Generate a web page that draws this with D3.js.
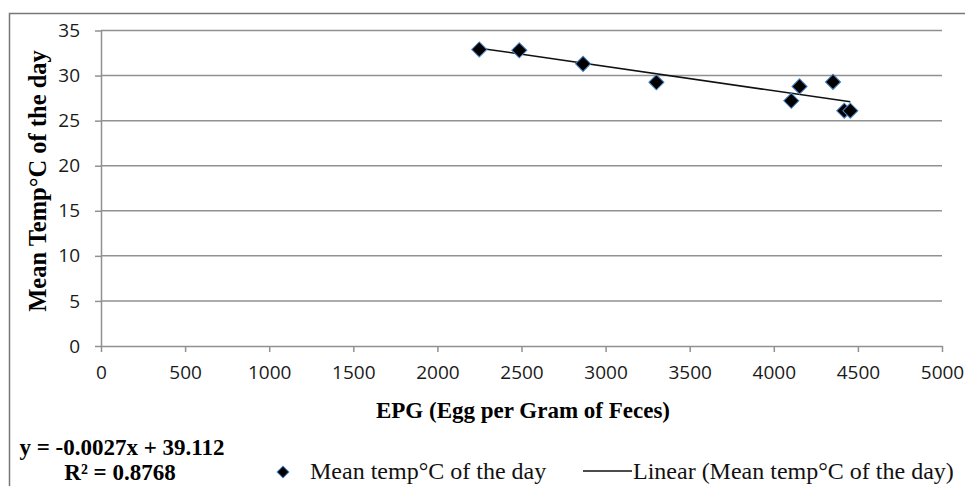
<!DOCTYPE html>
<html>
<head>
<meta charset="utf-8">
<script src="https://cdn.jsdelivr.net/npm/d3@7"></script>
<style>
  body { margin: 0; background: #fff; }
  svg { display: block; }
</style>
</head>
<body>
<div class="chart-container"></div>
<script>
// --- data ---
const epg = [2249, 2487, 2866, 3302, 4104, 4153, 4352, 4419, 4455];
const meanTemp = [32.9, 32.8, 31.3, 29.25, 27.2, 28.8, 29.3, 26.1, 26.1];
const xTicks = [0, 500, 1000, 1500, 2000, 2500, 3000, 3500, 4000, 4500, 5000];
const yTicks = [0, 5, 10, 15, 20, 25, 30, 35];
const slope = -0.0027;
const intercept = 39.112;

const w = 965, h = 486;
const plotLeft = 101, plotRight = 942, plotTop = 30.5, plotBottom = 346;
const serif = "'Liberation Serif', 'Times New Roman', serif";

const svg = d3.select(".chart-container")
  .append("svg")
  .attr("width", w)
  .attr("height", h);

// outer frame (top and left visible)
svg.append("path")
  .attr("d", "M9.5," + h + "V13.5H" + w)
  .attr("fill", "none")
  .attr("stroke", "#777")
  .attr("stroke-width", 1.5);

const xScale = d3.scaleLinear().domain([0, 5000]).range([plotLeft, plotRight]);
const yScale = d3.scaleLinear().domain([0, 35]).range([plotBottom, plotTop]);

// gridlines
svg.append("g")
  .selectAll("line")
  .data(yTicks.filter(d => d > 0))
  .enter()
  .append("line")
  .attr("x1", plotLeft).attr("x2", plotRight)
  .attr("y1", d => yScale(d)).attr("y2", d => yScale(d))
  .attr("stroke", "#919191")
  .attr("stroke-width", 1.5);

const xAxis = d3.axisBottom(xScale).tickValues(xTicks).tickFormat(d3.format("d"))
  .tickSize(6).tickSizeOuter(0).tickPadding(14);
const yAxis = d3.axisLeft(yScale).tickValues(yTicks).tickFormat(d3.format("d"))
  .tickSize(6).tickSizeOuter(0).tickPadding(15);

const gx = svg.append("g")
  .attr("transform", "translate(0," + plotBottom + ")")
  .call(xAxis);
const gy = svg.append("g")
  .attr("transform", "translate(" + plotLeft + ",0)")
  .call(yAxis);

[gx, gy].forEach(g => {
  g.select(".domain").attr("stroke", "#919191").attr("stroke-width", 1.5);
  g.selectAll(".tick line").attr("stroke", "#919191").attr("stroke-width", 1.5);
  g.selectAll(".tick text")
    .attr("fill", "#1a1a1a")
    .attr("font-family", "'Open Sans', sans-serif")
    .attr("font-size", "19px");
});

// trend line
const xMin = d3.min(epg), xMax = d3.max(epg);
svg.append("line")
  .attr("x1", xScale(xMin)).attr("y1", yScale(slope * xMin + intercept))
  .attr("x2", xScale(xMax)).attr("y2", yScale(slope * xMax + intercept))
  .attr("stroke", "#111")
  .attr("stroke-width", 1.5);

// diamond markers
const diamond = d3.symbol().type(d3.symbolSquare).size(115);
svg.append("g")
  .selectAll("path")
  .data(epg.map((d, i) => [d, meanTemp[i]]))
  .enter()
  .append("path")
  .attr("d", diamond)
  .attr("transform", d => "translate(" + xScale(d[0]) + "," + yScale(d[1]) + ") rotate(45)")
  .attr("fill", "#000")
  .attr("stroke", "#4a86c8")
  .attr("stroke-width", 1);

// axis titles
svg.append("text")
  .attr("x", 523).attr("y", 418)
  .attr("text-anchor", "middle")
  .attr("font-family", serif)
  .attr("font-weight", "bold")
  .attr("font-size", "23px")
  .text("EPG (Egg per Gram of Feces)");

svg.append("text")
  .attr("transform", "translate(46,181) rotate(-90)")
  .attr("text-anchor", "middle")
  .attr("font-family", serif)
  .attr("font-weight", "bold")
  .attr("font-size", "24.5px")
  .text("Mean Temp°C of the day");

// trendline equation
svg.append("text")
  .attr("x", 122).attr("y", 455)
  .attr("text-anchor", "middle")
  .attr("font-family", serif)
  .attr("font-weight", "bold")
  .attr("font-size", "23px")
  .text("y = -0.0027x + 39.112");
svg.append("text")
  .attr("x", 120).attr("y", 480)
  .attr("text-anchor", "middle")
  .attr("font-family", serif)
  .attr("font-weight", "bold")
  .attr("font-size", "23px")
  .text("R² = 0.8768");

// legend
const legend = svg.append("g").attr("font-family", serif).attr("font-size", "24px").attr("fill", "#111");
legend.append("path")
  .attr("d", d3.symbol().type(d3.symbolSquare).size(70))
  .attr("transform", "translate(283,472) rotate(45)")
  .attr("fill", "#000")
  .attr("stroke", "#4a86c8")
  .attr("stroke-width", 1);
legend.append("text").attr("x", 310).attr("y", 479).text("Mean temp°C of the day");
legend.append("line")
  .attr("x1", 583).attr("x2", 632).attr("y1", 471).attr("y2", 471)
  .attr("stroke", "#111").attr("stroke-width", 1.5);
legend.append("text").attr("x", 633).attr("y", 479).text("Linear (Mean temp°C of the day)");
</script>
</body>
</html>
